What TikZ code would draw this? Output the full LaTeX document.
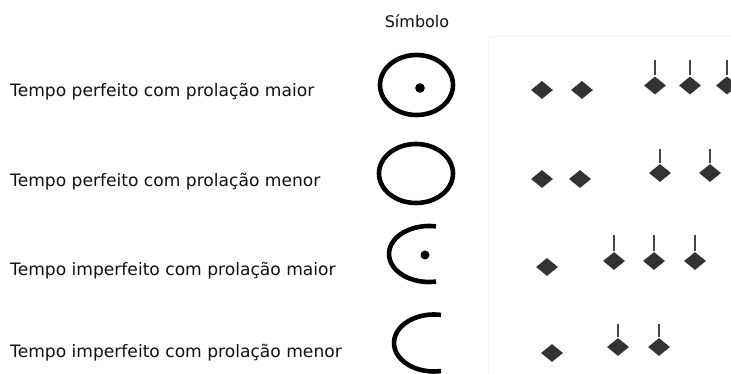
\documentclass[tikz,border=0pt]{standalone}
\usepackage{fontspec}
\setmainfont{DejaVu Sans}
\usetikzlibrary{shapes.geometric}
\definecolor{ink}{HTML}{111111}
\definecolor{notefill}{HTML}{333333}
\definecolor{stemcol}{HTML}{444444}
\definecolor{panelline}{HTML}{F4F4F4}
\tikzset{
  label/.style={anchor=base west, inner sep=0pt, text=ink, font=\fontsize{17.1}{20}\selectfont},
  head/.style={anchor=base, inner sep=0pt, text=ink, font=\fontsize{16}{19}\selectfont},
  sym/.style={line width=4.6pt, draw=black},
  note/.style={diamond, fill=notefill, inner sep=0pt, minimum width=22pt, minimum height=18pt},
  stem/.style={draw=stemcol, line width=2.8pt},
}
\begin{document}
\begin{tikzpicture}[x=1pt, y=-1pt]
\useasboundingbox (0,0) rectangle (731,374);
\fill[white] (0,0) rectangle (731,374);

% light panel behind the note values
\draw[panelline, line width=0.7pt] (488,374) -- (488,36) -- (731,36);

% header
\node[head] (hd) at (417,28) {Símbolo};

% row labels
\node[label] (l1) at (10,97)  {Tempo perfeito com prolação maior};
\node[label] (l2) at (10,187) {Tempo perfeito com prolação menor};
\node[label] (l3) at (10,275) {Tempo imperfeito com prolação maior};
\node[label] (l4) at (10,357) {Tempo imperfeito com prolação menor};

% mensuration signs
\draw[sym] (416.5,85) ellipse [x radius=36.5, y radius=30];
\fill (420,88) circle (4.8);
\draw[sym] (416,173.5) ellipse [x radius=37, y radius=29.5];
\draw[sym] (429,254) ++(-80:40 and 28) arc [start angle=-80, end angle=-280, x radius=40, y radius=28];
\fill (425,255) circle (4.5);
\draw[sym] (434,343) ++(-80:40 and 28.5) arc [start angle=-80, end angle=-280, x radius=40, y radius=28.5];

% row 1: two semibreves, three minims
\node[note] (a1) at (542,90) {};
\node[note] (a2) at (582,90) {};
\node[note] (a3) at (655,85.5) {};
\node[note] (a4) at (690,85.5) {};
\node[note] (a5) at (727,85.5) {};
\foreach \n in {a3,a4,a5} \draw[stem] ([yshift=1pt]\n.north) -- ++(0,-15);

% row 2: two semibreves, two minims
\node[note] (b1) at (542,179) {};
\node[note] (b2) at (580,179) {};
\node[note] (b3) at (660,173) {};
\node[note] (b4) at (710,173) {};
\foreach \n in {b3,b4} \draw[stem] ([yshift=1pt]\n.north) -- ++(0,-14);

% row 3: one semibreve, three minims
\node[note] (c1) at (547,267) {};
\node[note] (c2) at (614,261) {};
\node[note] (c3) at (654,261) {};
\node[note] (c4) at (695,261) {};
\foreach \n in {c2,c3,c4} \draw[stem] ([yshift=1pt]\n.north) -- ++(0,-16);

% row 4: one semibreve, two minims
\node[note] (d1) at (552,353) {};
\node[note] (d2) at (618,347) {};
\node[note] (d3) at (659,347) {};
\foreach \n in {d2,d3} \draw[stem] ([yshift=1pt]\n.north) -- ++(0,-13);
\end{tikzpicture}
\end{document}
